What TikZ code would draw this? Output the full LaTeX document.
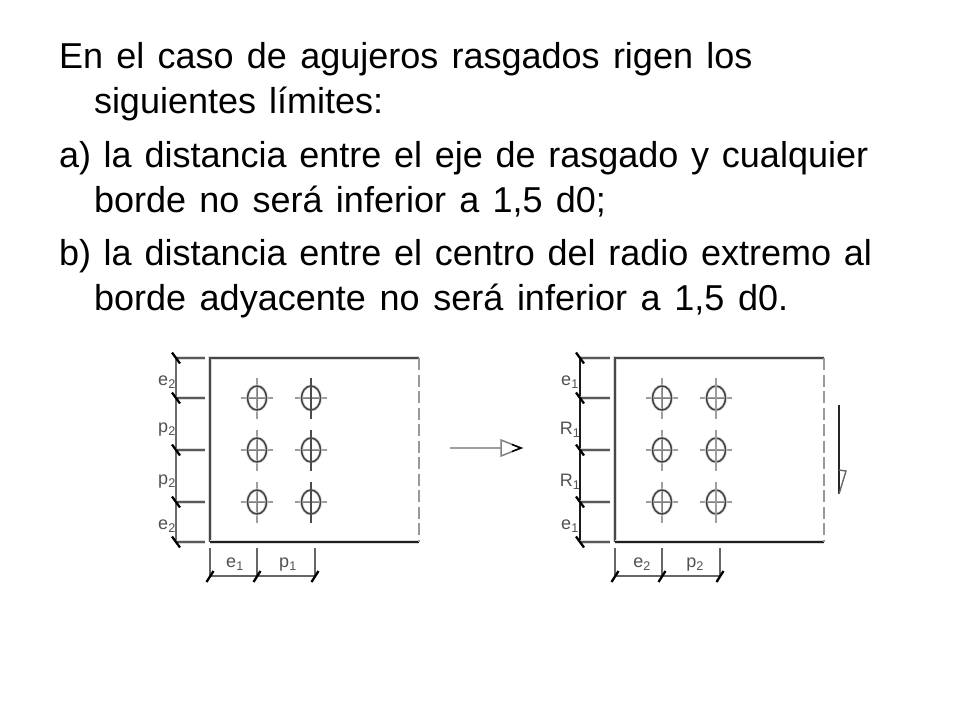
\documentclass[tikz,border=0pt]{standalone}
\usepackage{fontspec}
\setmainfont{Liberation Sans}
\usetikzlibrary{shapes.geometric}
\newcommand{\slidefont}{\fontsize{36}{40}\selectfont}
\newcommand{\wsp}[1]{\spaceskip #1pt plus 0pt minus 0pt\relax}
\tikzset{
  txt/.style={anchor=base west,inner sep=0pt,outer sep=0pt,font=\slidefont,text=black},
  blur/.style={preaction={draw,draw=black!14,line width=3.2pt}},
  plate/.style={blur,line width=1.7pt,draw=black!72},
  plateb/.style={blur,line width=2pt,draw=black!88},
  platedash/.style={line width=1.8pt,draw=black!40,dash pattern=on 12pt off 4.5pt},
  chainline/.style={line width=1.5pt},
  ext/.style={blur,line width=1.7pt,draw=black!65},
  dimb/.style={line width=1.6pt,draw=black!60},
  tick/.style={line width=2.3pt,draw=black},
  hole/.style={draw=black!75,line width=1.5pt,ellipse,minimum width=19pt,minimum height=24pt,inner sep=0pt,blur},
  cl/.style={line width=1.3pt,draw=black!38},
  lab/.style={font=\fontsize{18}{18}\selectfont,text=black!68,inner sep=0pt},
}
\begin{document}
\begin{tikzpicture}[x=1pt,y=-1pt]
\useasboundingbox[fill=white] (0,0) rectangle (960,720);
\node[txt] (t1) at (59,68) {\wsp{13.3}En el caso de agujeros rasgados rigen los};
\node[txt] (t2) at (94,113) {\wsp{13}siguientes límites:};
\node[txt] (t3) at (59,167) {\wsp{12.75}a) la distancia entre el eje de rasgado y cualquier};
\node[txt] (t4) at (94,212) {\wsp{13.3}borde no será inferior a 1,5 d0;};
\node[txt] (t5) at (59,265) {\wsp{12.75}b) la distancia entre el centro del radio extremo al};
\node[txt] (t6) at (94,310) {\wsp{13.7}borde adyacente no será inferior a 1,5 d0.};

\foreach \ox/\chx/\chc/\lblx/\bshift/\vdark/\lA/\lB/\lC/\lD/\lE/\lF in {
  0/176/black!58/167/0/black!70/{e\textsubscript{2}}/{p\textsubscript{2}}/{p\textsubscript{2}}/{e\textsubscript{2}}/{e\textsubscript{1}}/{p\textsubscript{1}},
  405/175/black!90/165/2/black!38/{e\textsubscript{1}}/{R\textsubscript{1}}/{R\textsubscript{1}}/{e\textsubscript{1}}/{e\textsubscript{2}}/{p\textsubscript{2}}}{
  \begin{scope}[xshift=\ox pt]
  \coordinate (tl) at (210,358); \coordinate (tr) at (419,358);
  \coordinate (bl) at (210,542); \coordinate (br) at (419,542);
  \draw[plate] (bl) -- (tl) -- (tr);
  \draw[plateb] (bl) -- (br);
  \draw[platedash] (tr) -- (br);
  \foreach \hx in {257,311}{
    \foreach \hy in {398,450,502}{
      \draw[cl] (\hx-16,\hy) -- (\hx+16,\hy);
      \draw[cl] (\hx,\hy-20.5) -- (\hx,\hy+20.5);
      \node[hole] (h) at (\hx,\hy) {};
      \draw[cl,line width=1pt,draw=black!50] (\hx-9,\hy) -- (\hx+9,\hy);
      \draw[cl,line width=1pt,draw=black!50] (\hx,\hy-11) -- (\hx,\hy+11);
    }
  }
  \foreach \hy in {398,450,502}{
    \draw[cl,draw=\vdark] (311,\hy-20.5) -- (311,\hy+20.5);
  }
  % left dimension chain
  \draw[chainline,draw=\chc] (\chx,358) -- (\chx,542);
  \foreach \yy in {358,398,450,502,542}{
    \draw[ext] (\chx,\yy) -- (205,\yy);
    \draw[tick] (\chx-4,\yy-5.5) -- (\chx+4,\yy+5.5);
  }
  % bottom chain
  \draw[dimb] (210,576) -- (315,576);
  \draw[dimb] (210,548) -- (210,576);
  \draw[dimb] (257,548) -- (257,576);
  \draw[dimb] (315,548) -- (315,576);
  \foreach \xx in {210,257,315}{\draw[tick] (\xx-3.5,582) -- (\xx+3.5,571);}
  \node[lab] (la) at (\lblx,382) {\lA};
  \node[lab] (lb) at (\lblx,430) {\lB};
  \node[lab] (lc) at (\lblx,482) {\lC};
  \node[lab] (ld) at (\lblx,526) {\lD};
  \node[lab] (le) at (235+\bshift,564) {\lE};
  \node[lab] (lf) at (288+\bshift,565) {\lF};
  \end{scope}
}
% arrows
\coordinate (a1) at (450,448); \coordinate (a2) at (521,448);
\draw[line width=2.2pt,draw=black!38] (a1) -- (501,448);
\draw[line width=1.5pt,draw=black!50] (501,440) -- (a2) -- (501,456) -- cycle;
\draw[line width=1.5pt,draw=black] (512,444.5) -- (a2) -- (512,451.5);
\coordinate (b1) at (839,405); \coordinate (b2) at (839,494);
\draw[line width=1.6pt,draw=black!85] (b1) -- (b2);
\draw[line width=1.4pt,draw=black!60] (839,470) -- (846,471) -- (b2);
\end{tikzpicture}
\end{document}
